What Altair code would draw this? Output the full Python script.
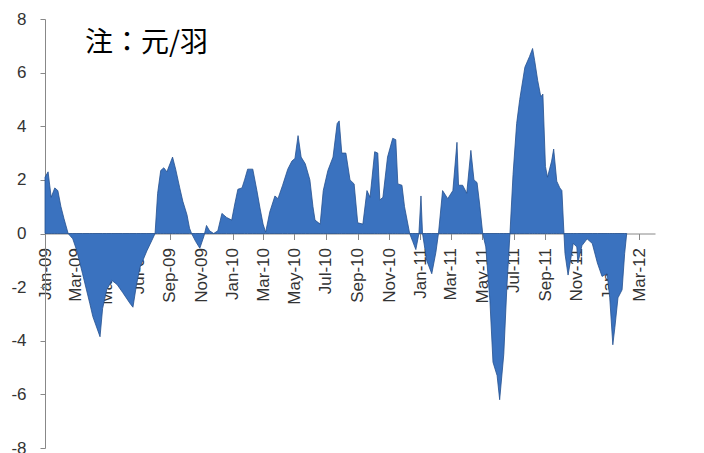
import altair as alt
import pandas as pd

dates = [
    "2009-01-01", "2009-01-07", "2009-01-13", "2009-01-20", "2009-01-26", "2009-02-01", "2009-02-07",
    "2009-02-15", "2009-02-24", "2009-03-04", "2009-03-15", "2009-03-29", "2009-04-04", "2009-04-18",
    "2009-04-23", "2009-05-01", "2009-05-11", "2009-05-21", "2009-06-01", "2009-06-15", "2009-06-21",
    "2009-06-28", "2009-07-05", "2009-07-18", "2009-07-28", "2009-08-03", "2009-08-08", "2009-08-14",
    "2009-08-20", "2009-08-26", "2009-09-01", "2009-09-06", "2009-09-12", "2009-09-20", "2009-09-26",
    "2009-10-04", "2009-10-09", "2009-10-13", "2009-10-21", "2009-10-29", "2009-11-06", "2009-11-11",
    "2009-11-17", "2009-11-25", "2009-12-03", "2009-12-11", "2009-12-20", "2009-12-30",
    "2010-01-05", "2010-01-11", "2010-01-19", "2010-01-24", "2010-01-30", "2010-02-09", "2010-02-17",
    "2010-02-23", "2010-03-01", "2010-03-06", "2010-03-14", "2010-03-24", "2010-03-30", "2010-04-08",
    "2010-04-18", "2010-04-26", "2010-05-02", "2010-05-08", "2010-05-14", "2010-05-22", "2010-05-31",
    "2010-06-06", "2010-06-10", "2010-06-20", "2010-06-26", "2010-07-05", "2010-07-15", "2010-07-23",
    "2010-07-27", "2010-08-01", "2010-08-09", "2010-08-17", "2010-08-25", "2010-09-01", "2010-09-11",
    "2010-09-19", "2010-09-25", "2010-10-04", "2010-10-10", "2010-10-14", "2010-10-20", "2010-10-29",
    "2010-11-08", "2010-11-14", "2010-11-18", "2010-11-26", "2010-12-01", "2010-12-11", "2010-12-17",
    "2010-12-23", "2010-12-29",
    "2011-01-02", "2011-01-05", "2011-01-13", "2011-01-23", "2011-01-31", "2011-02-05", "2011-02-13",
    "2011-02-23", "2011-03-05", "2011-03-13", "2011-03-16", "2011-03-24", "2011-04-01", "2011-04-09",
    "2011-04-15", "2011-04-21", "2011-04-26", "2011-05-02", "2011-05-08", "2011-05-16", "2011-05-22",
    "2011-05-30", "2011-06-04", "2011-06-12", "2011-06-18", "2011-06-24", "2011-06-30", "2011-07-07",
    "2011-07-13", "2011-07-23", "2011-08-01", "2011-08-07", "2011-08-11", "2011-08-17", "2011-08-23",
    "2011-08-27", "2011-09-01", "2011-09-05", "2011-09-13", "2011-09-17", "2011-09-23", "2011-09-29",
    "2011-10-03", "2011-10-07", "2011-10-09", "2011-10-15", "2011-10-19", "2011-10-25", "2011-11-01",
    "2011-11-03", "2011-11-11", "2011-11-21", "2011-12-01", "2011-12-11", "2011-12-20", "2011-12-30",
    "2012-01-04", "2012-01-10", "2012-01-14", "2012-01-20", "2012-01-28", "2012-02-02", "2012-02-06",
]

values = [
    2.1, 2.3, 1.35, 1.7, 1.6, 1.0, 0.55,
    0.0, -0.2, -0.65, -1.5, -2.6, -3.1, -3.85,
    -2.8, -2.1, -1.75, -1.9, -2.2, -2.6, -2.75,
    -1.9, -1.25, -0.65, -0.25, 0.0, 1.5, 2.35,
    2.45, 2.3, 2.6, 2.85, 2.4, 1.7, 1.2,
    0.7, 0.2, 0.0, -0.3, -0.55, -0.1, 0.3,
    0.1, 0.0, 0.1, 0.75, 0.6, 0.5,
    1.1, 1.65, 1.7, 2.0, 2.4, 2.4, 1.6,
    0.95, 0.35, 0.05, 0.8, 1.4, 1.3, 1.8,
    2.4, 2.7, 2.8, 3.65, 2.85, 2.6, 2.0,
    1.0, 0.5, 0.35, 1.6, 2.35, 2.85, 4.1,
    4.2, 3.0, 3.0, 2.0, 1.85, 0.4, 0.35,
    1.6, 1.35, 3.05, 3.0, 1.25, 1.35, 2.85,
    3.55, 3.5, 1.85, 1.8, 1.0, 0.0, -0.3,
    -0.6, 0.0,
    1.4, 0.0, -1.0, -1.5, -0.7, 0.0, 1.6,
    1.3, 1.6, 3.4, 1.8, 1.8, 1.5, 3.1,
    2.0, 1.9, 1.1, 0.0, -0.5, -2.5, -4.8,
    -5.3, -6.2, -4.5, -2.0, 0.0, 2.2, 4.1,
    5.0, 6.2, 6.6, 6.9, 6.45, 5.7, 5.1,
    5.2, 2.5, 2.1, 2.7, 3.15, 1.95, 1.7,
    1.6, 0.0, -0.75, -1.55, -1.1, -0.37, -0.5,
    -1.1, -0.45, -0.2, -0.37, -1.1, -1.6, -1.5,
    -2.4, -4.15, -3.5, -2.4, -2.1, -0.75, 0.0,
]

tick_months = [(2009, m) for m in (1, 3, 5, 7, 9, 11)] + \
              [(2010, m) for m in (1, 3, 5, 7, 9, 11)] + \
              [(2011, m) for m in (1, 3, 5, 7, 9, 11)] + [(2012, 1), (2012, 3)]
y_ticks = [-8, -6, -4, -2, 0, 2, 4, 6, 8]
note = "注：元/羽"

df = pd.DataFrame({"date": dates, "value": values})

W, H = 610, 429
label_font = "Liberation Sans"

area = alt.Chart(df).mark_area(
    color="#3a72bf", stroke="#24508f", strokeWidth=0.8, interpolate="linear"
).encode(
    x=alt.X(
        "date:T",
        scale=alt.Scale(
            type="utc",
            domain=[alt.DateTime(year=2009, month=1, date=1, utc=True),
                    alt.DateTime(year=2012, month=4, date=1, utc=True)],
        ),
        axis=alt.Axis(
            title=None,
            values=[alt.DateTime(year=y, month=m, date=1, utc=True) for y, m in tick_months],
            format="%b-%y",
            labelAngle=-90,
            labelFontSize=17,
            labelFont=label_font,
            labelColor="#333333",
            labelPadding=8,
            tickSize=6,
            tickColor="#888888",
            domainColor="#888888",
            grid=False,
            offset=-H / 2,
            labelOverlap=False,
        ),
    ),
    y=alt.Y(
        "value:Q",
        scale=alt.Scale(domain=[-8, 8], nice=False),
        axis=alt.Axis(
            title=None,
            values=y_ticks,
            labelExpr="'' + datum.value",
            labelFontSize=17,
            labelFont=label_font,
            labelColor="#333333",
            labelPadding=14,
            tickSize=5,
            tickColor="#888888",
            domainColor="#888888",
            grid=False,
        ),
    ),
)

text = alt.Chart(pd.DataFrame({"t": [note]})).mark_text(
    align="left", baseline="middle", fontSize=28, font="Noto Sans CJK JP", color="#000000"
).encode(
    text="t:N",
    x=alt.value(40),
    y=alt.value(25),
)

chart = alt.layer(area, text).properties(
    width=W,
    height=H,
    autosize=alt.AutoSizeParams(type="none"),
    padding={"left": 37, "top": 11, "right": 41, "bottom": 5},
).configure_view(stroke=None)

chart.save("out.html", embed_options={"renderer": "svg", "actions": False})
